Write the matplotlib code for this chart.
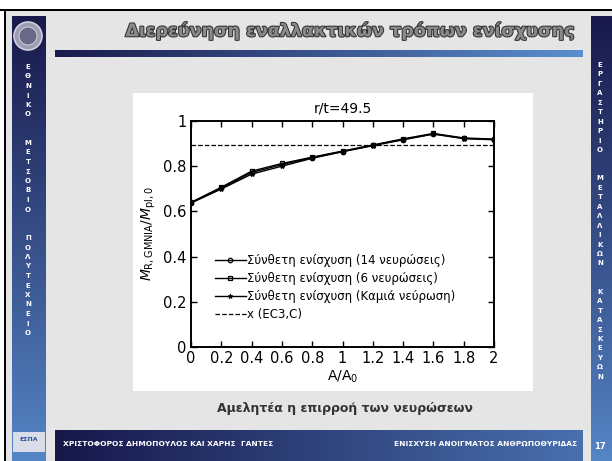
import numpy as np
import matplotlib.pyplot as plt
from matplotlib.colors import LinearSegmentedColormap
from matplotlib.patches import Rectangle, Ellipse
import matplotlib.patheffects as pe

# values
ratio = [0, 0.2, 0.4, 0.6, 0.8, 1.0, 1.2, 1.4, 1.6, 1.8, 2.0]
rib14 = [0.638, 0.703, 0.772, 0.807, 0.838, 0.865, 0.892, 0.918, 0.943, 0.923, 0.918]
rib6 = [0.640, 0.707, 0.778, 0.812, 0.840, 0.867, 0.894, 0.921, 0.945, 0.925, 0.920]
rib0 = [0.637, 0.699, 0.765, 0.800, 0.835, 0.864, 0.891, 0.917, 0.942, 0.922, 0.917]
ec3_x = 0.895
labels = ['Σύνθετη ενίσχυση (14 νευρώσεις)',
          'Σύνθετη ενίσχυση (6 νευρώσεις)',
          'Σύνθετη ενίσχυση (Καμιά νεύρωση)',
          'x (EC3,C)']
xticks = [0, 0.2, 0.4, 0.6, 0.8, 1, 1.2, 1.4, 1.6, 1.8, 2]
xticklabels = ['0', '0.2', '0.4', '0.6', '0.8', '1', '1.2', '1.4', '1.6', '1.8', '2']
yticks = [0, 0.2, 0.4, 0.6, 0.8, 1]
yticklabels = ['0', '0.2', '0.4', '0.6', '0.8', '1']

slide_title = 'Διερεύνηση εναλλακτικών τρόπων ενίσχυσης'
caption = 'Αμελητέα η επιρροή των νευρώσεων'
left_side = 'ΕΘΝΙΚΟ  ΜΕΤΣΟΒΙΟ  ΠΟΛΥΤΕΧΝΕΙΟ'
right_side = 'ΕΡΓΑΣΤΗΡΙΟ  ΜΕΤΑΛΛΙΚΩΝ  ΚΑΤΑΣΚΕΥΩΝ'
footer_left = 'ΧΡΙΣΤΟΦΟΡΟΣ ΔΗΜΟΠΟΥΛΟΣ ΚΑΙ ΧΑΡΗΣ  ΓΑΝΤΕΣ'
footer_right = 'ΕΝΙΣΧΥΣΗ ΑΝΟΙΓΜΑΤΟΣ ΑΝΘΡΩΠΟΘΥΡΙΔΑΣ'
page = '17'

W, H = 612, 461
fig = plt.figure(figsize=(W / 100, H / 100), dpi=100)
fig.patch.set_facecolor('#e5e5e5')


def box(x0, y0, x1, y1):
    # pixel box (top-left origin) -> figure rect
    return [x0 / W, 1 - y1 / H, (x1 - x0) / W, (y1 - y0) / H]


def rect(x0, y0, x1, y1, color, z=-1):
    fig.add_artist(Rectangle((x0 / W, 1 - y1 / H), (x1 - x0) / W, (y1 - y0) / H,
                             transform=fig.transFigure, facecolor=color,
                             edgecolor='none', zorder=z))


def grad(x0, y0, x1, y1, c0, c1, vertical=True):
    a = fig.add_axes(box(x0, y0, x1, y1))
    g = np.linspace(0, 1, 256)
    g = g[:, None] if vertical else g[None, :]
    a.imshow(g, cmap=LinearSegmentedColormap.from_list('g', [c0, c1]),
             aspect='auto', interpolation='bilinear')
    a.axis('off')
    return a


# slide frame
rect(0, 0, W, 9, 'white')
rect(0, 0, 4, H, 'white')
rect(0, 9, W, 11, 'black')
rect(4, 9, 6, H, 'black')

# side bars, title underline, footer
grad(12, 16, 46, H, '#18184a', '#5585c5')
grad(591, 16, W, H, '#18184a', '#5585c5')
grad(55, 50, 583, 57, '#1a1a4c', '#5a8fd0', vertical=False)
grad(55, 430, 583, H, '#17174a', '#4870ae', vertical=False)

# logos
fig.add_artist(Ellipse((28 / W, 1 - 36 / H), 28 / W, 28 / H, transform=fig.transFigure,
                       facecolor='#9c9cb4', edgecolor='#d0d0dc', lw=1.2, zorder=3))
fig.add_artist(Ellipse((28 / W, 1 - 36 / H), 18 / W, 18 / H, transform=fig.transFigure,
                       facecolor='#6a6a88', edgecolor='#c8c8d6', lw=0.8, zorder=3))
rect(13, 432, 45, 452, '#d8dde8', z=3)
fig.text(29 / W, 1 - 439 / H, 'ΕΣΠΑ', ha='center', va='center', fontsize=4.5,
         color='#2a4f9a', fontweight='bold', zorder=4)

# white panel behind the chart
rect(133, 93, 533, 391, 'white')

# slide title
fig.text(350 / W, 1 - 31 / H, slide_title, ha='center', va='center', fontsize=12.6,
         fontweight='bold', color='#8a8a8a',
         path_effects=[pe.withStroke(linewidth=1.5, foreground='#333333')])

# vertical side texts
fig.text(28 / W, 1 - 64 / H, '\n'.join(left_side), ha='center', va='top', fontsize=5,
         fontweight='bold', color='white', linespacing=1.70)
fig.text(600 / W, 1 - 62 / H, '\n'.join(right_side), ha='center', va='top', fontsize=5,
         fontweight='bold', color='white', linespacing=1.69)
fig.text(600 / W, 1 - 446 / H, page, ha='center', va='center', fontsize=6,
         fontweight='bold', color='white')

# footer texts
fig.text(63 / W, 1 - 444 / H, footer_left, ha='left', va='center', fontsize=5.4,
         fontweight='bold', color='white')
fig.text(577 / W, 1 - 444 / H, footer_right, ha='right', va='center', fontsize=5.4,
         fontweight='bold', color='white')

# caption
fig.text(345 / W, 1 - 408 / H, caption, ha='center', va='center', fontsize=9,
         fontweight='bold', color='#333333')

# the chart
ax = fig.add_axes(box(191, 121, 494, 347))
ax.plot(ratio, rib14, '-o', color='black', lw=1.0, ms=3.2, mfc='none', mew=0.9, label=labels[0])
ax.plot(ratio, rib6, '-s', color='black', lw=1.0, ms=3.5, mfc='none', mew=0.9, label=labels[1])
ax.plot(ratio, rib0, '-*', color='black', lw=1.0, ms=3.5, mew=0.7, label=labels[2])
ax.plot([ratio[0], ratio[-1]], [ec3_x, ec3_x], '--', color='black', lw=0.9, label=labels[3])

ax.set_xlim(0, 2)
ax.set_ylim(0, 1)
ax.set_xticks(xticks)
ax.set_xticklabels(xticklabels)
ax.set_yticks(yticks)
ax.set_yticklabels(yticklabels)
ax.tick_params(direction='in', length=4, width=1, top=True, right=True,
               labelsize=10.5, pad=3)
for s in ax.spines.values():
    s.set_linewidth(1.4)
ax.set_title('r/t=49.5', fontsize=10, pad=6)
ax.set_xlabel('A/A$_0$', fontsize=10, labelpad=2)
ax.set_ylabel('$M_{\\mathrm{R,GMNIA}}/M_{\\mathrm{pl,0}}$', fontsize=10, labelpad=4)

ax.legend(loc='upper left', bbox_to_anchor=(215 / W, 1 - 254 / H),
          bbox_transform=fig.transFigure, frameon=False, fontsize=8.5,
          handlelength=2.6, handletextpad=0.1, labelspacing=0.42,
          borderaxespad=0, borderpad=0)

fig.savefig('out.png', dpi=100, facecolor=fig.get_facecolor())
